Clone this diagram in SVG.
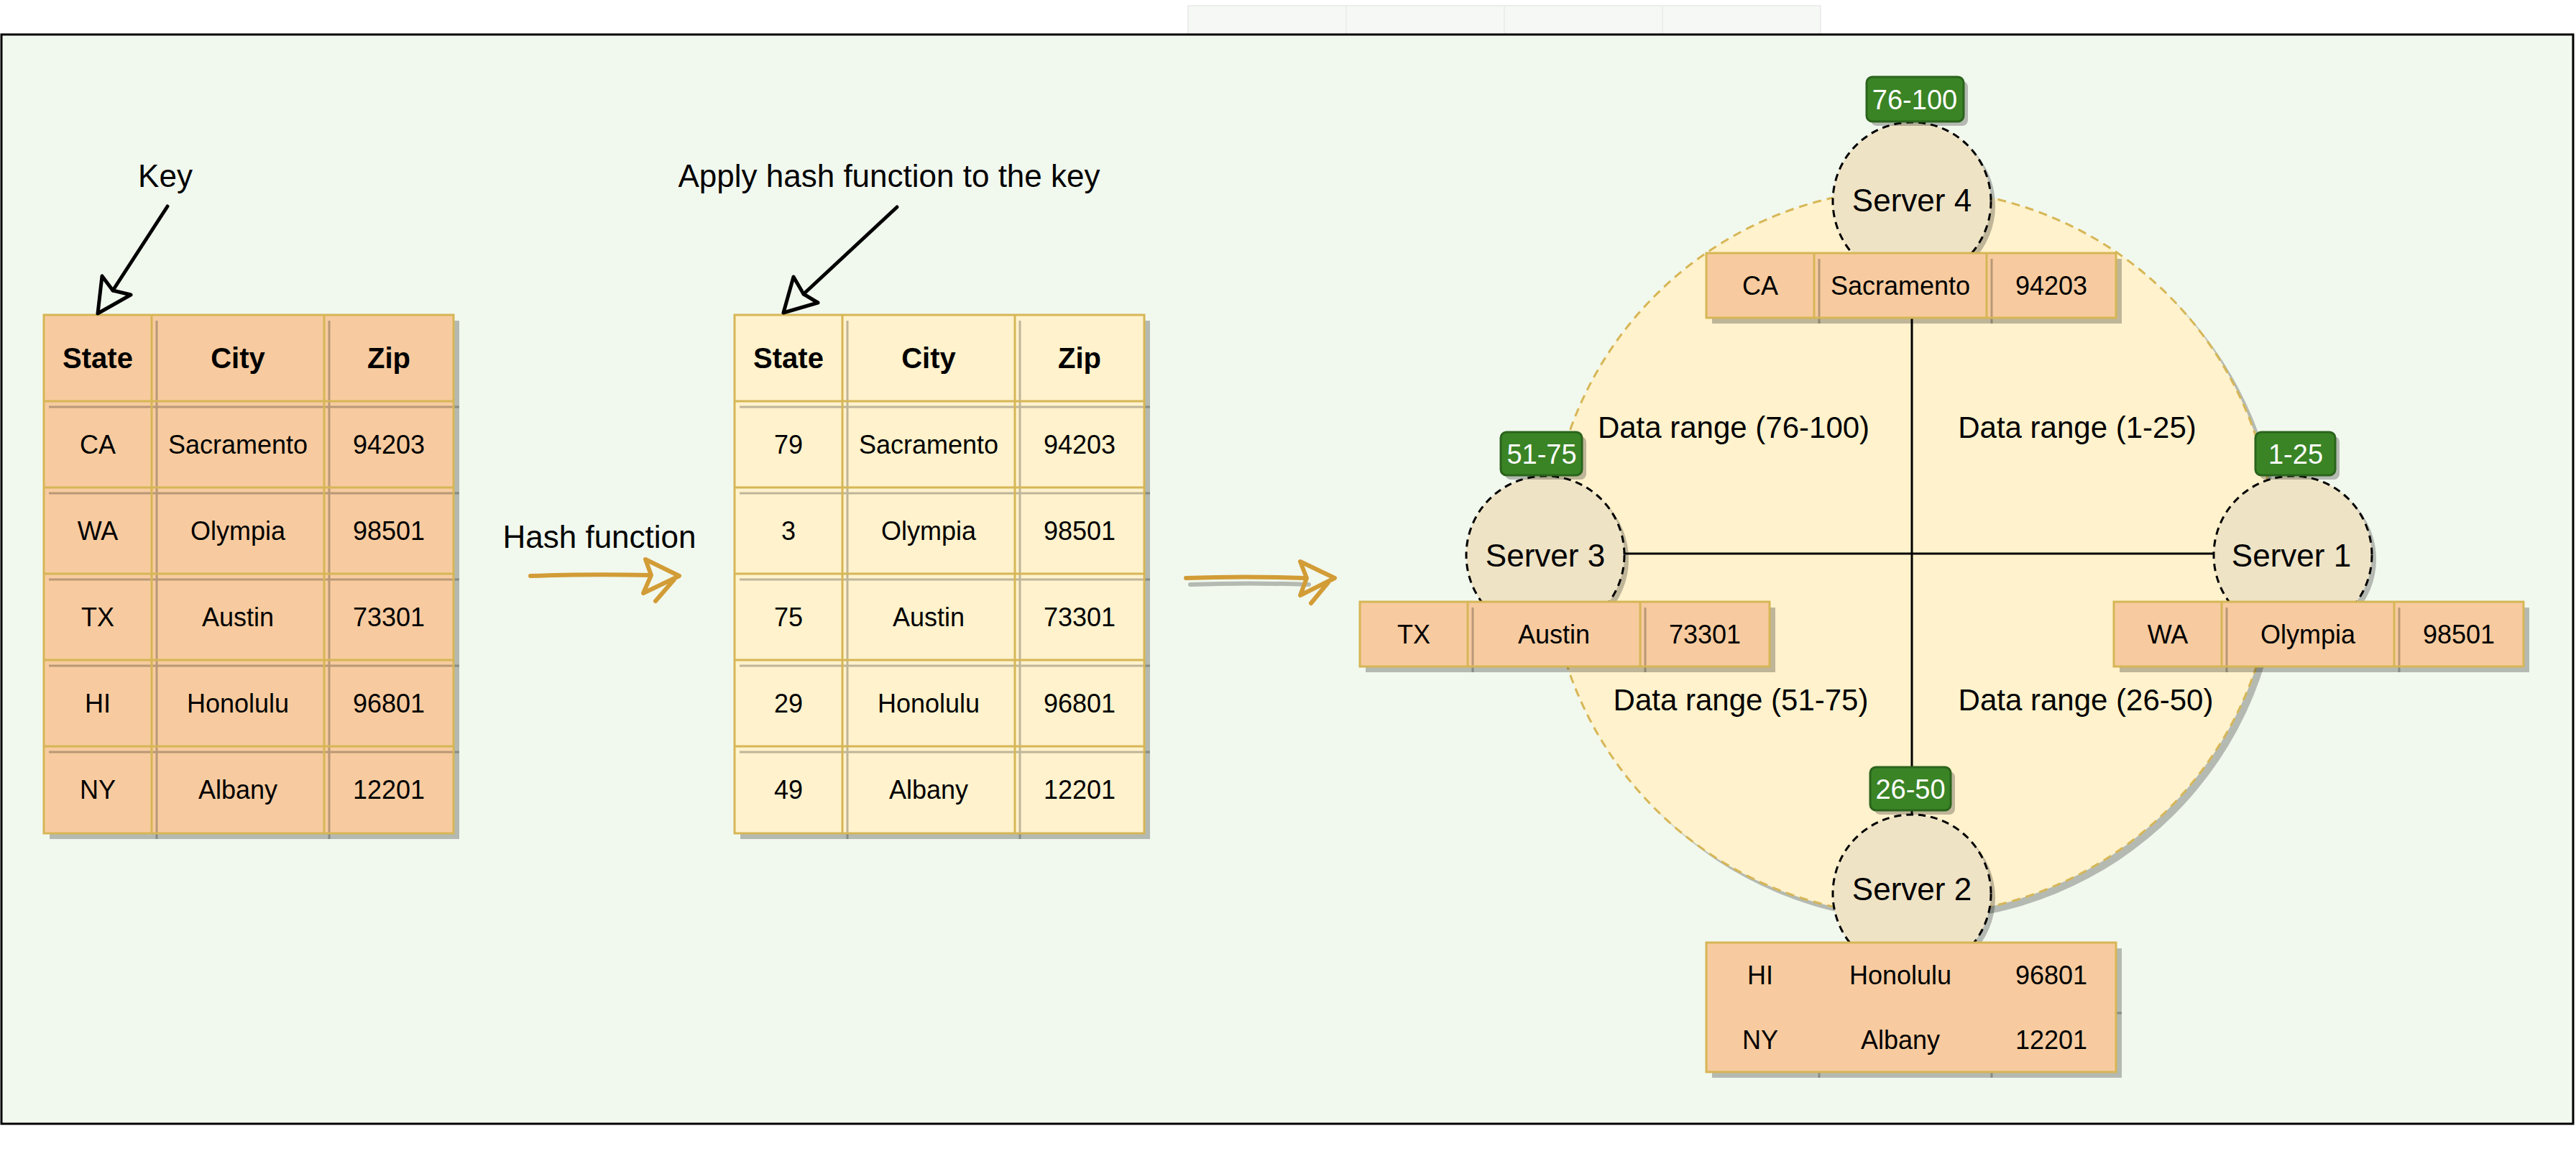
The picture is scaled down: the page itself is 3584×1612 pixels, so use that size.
<svg xmlns="http://www.w3.org/2000/svg" width="3584" height="1612" viewBox="0 0 3584 1612">
<style>
.frame{fill:#F1F8EE;stroke:#000;stroke-width:3}
.strip{fill:#F6F8F6;stroke:#EBEEEB;stroke-width:2}
.sh{fill:#000;fill-opacity:.25}
.shl{stroke:#000;stroke-opacity:.25;stroke-width:3;fill:none}
.peach{fill:#F7CB9F}
.cream{fill:#FFF2CC}
.gold{fill:none;stroke:#D6B656;stroke-width:3}
.t{font-family:"Liberation Sans",Arial,Helvetica,sans-serif;text-anchor:middle;fill:#000}
.f36{font-size:36px}
.f40b{font-size:40px;font-weight:bold}
.f44{font-size:44px}
.f42{font-size:42px}
.lbl{font-size:38px;fill:#fff}
.srv{fill:#EEE3C5;stroke:#000;stroke-width:3;stroke-dasharray:10 7}
.ring{fill:#FFF2CC;stroke:#D6B656;stroke-width:3;stroke-dasharray:12 8}
.grn{fill:#3A8426;stroke:#2B641C;stroke-width:3}
.line{stroke:#000;stroke-width:3;fill:none}
.ka{stroke:#000;stroke-width:5;fill:none;stroke-linecap:round;stroke-linejoin:round}
.ga{stroke:#D29C36;stroke-width:6;fill:none;stroke-linecap:round;stroke-linejoin:round}
.gas{stroke:#000;stroke-opacity:.25;stroke-width:6;fill:none;stroke-linecap:round;stroke-linejoin:round}
</style>
<rect x="0" y="0" width="3584" height="1612" fill="#fff"/>
<g id="top-strip">
<rect class="strip" x="1653" y="8" width="220" height="42"/>
<rect class="strip" x="1873" y="8" width="220" height="42"/>
<rect class="strip" x="2093" y="8" width="220" height="42"/>
<rect class="strip" x="2313" y="8" width="220" height="42"/>
</g>
<rect id="frame" class="frame" x="2" y="48" width="3578" height="1515"/>

<g id="label-key"><text class="t f44" x="230" y="260">Key</text></g>
<g id="label-apply"><text class="t f44" x="1237" y="260">Apply hash function to the key</text></g>
<g id="label-hash"><text class="t f44" x="834" y="762">Hash function</text></g>

<g id="table-original">
<rect class="sh" x="69" y="446" width="570" height="721"/>
<rect class="peach" x="61" y="438" width="570" height="721"/>
<path class="shl" d="M68,566H639M68,686H639M68,806H639M68,926H639M68,1046H639M218,446V1167M458,446V1167"/>
<rect class="gold" x="61" y="438" width="570" height="721"/>
<path class="gold" d="M61,558H631M61,678H631M61,798H631M61,918H631M61,1038H631M211,438V1159M451,438V1159"/>
<text class="t f40b" x="136" y="512">State</text><text class="t f40b" x="331" y="512">City</text><text class="t f40b" x="541" y="512">Zip</text>
<text class="t f36" x="136" y="631">CA</text><text class="t f36" x="331" y="631">Sacramento</text><text class="t f36" x="541" y="631">94203</text>
<text class="t f36" x="136" y="751">WA</text><text class="t f36" x="331" y="751">Olympia</text><text class="t f36" x="541" y="751">98501</text>
<text class="t f36" x="136" y="871">TX</text><text class="t f36" x="331" y="871">Austin</text><text class="t f36" x="541" y="871">73301</text>
<text class="t f36" x="136" y="991">HI</text><text class="t f36" x="331" y="991">Honolulu</text><text class="t f36" x="541" y="991">96801</text>
<text class="t f36" x="136" y="1111">NY</text><text class="t f36" x="331" y="1111">Albany</text><text class="t f36" x="541" y="1111">12201</text>
</g>

<g id="table-hashed">
<rect class="sh" x="1030" y="446" width="570" height="721"/>
<rect class="cream" x="1022" y="438" width="570" height="721"/>
<path class="shl" d="M1029,566H1600M1029,686H1600M1029,806H1600M1029,926H1600M1029,1046H1600M1179,446V1167M1419,446V1167"/>
<rect class="gold" x="1022" y="438" width="570" height="721"/>
<path class="gold" d="M1022,558H1592M1022,678H1592M1022,798H1592M1022,918H1592M1022,1038H1592M1172,438V1159M1412,438V1159"/>
<text class="t f40b" x="1097" y="512">State</text><text class="t f40b" x="1292" y="512">City</text><text class="t f40b" x="1502" y="512">Zip</text>
<text class="t f36" x="1097" y="631">79</text><text class="t f36" x="1292" y="631">Sacramento</text><text class="t f36" x="1502" y="631">94203</text>
<text class="t f36" x="1097" y="751">3</text><text class="t f36" x="1292" y="751">Olympia</text><text class="t f36" x="1502" y="751">98501</text>
<text class="t f36" x="1097" y="871">75</text><text class="t f36" x="1292" y="871">Austin</text><text class="t f36" x="1502" y="871">73301</text>
<text class="t f36" x="1097" y="991">29</text><text class="t f36" x="1292" y="991">Honolulu</text><text class="t f36" x="1502" y="991">96801</text>
<text class="t f36" x="1097" y="1111">49</text><text class="t f36" x="1292" y="1111">Albany</text><text class="t f36" x="1502" y="1111">12201</text>
</g>

<g id="ring">
<circle class="sh" cx="2668" cy="776" r="505"/>
<circle class="ring" cx="2660" cy="768" r="505"/>
</g>

<g id="connectors">
<path class="ka" d="M233,287L157,404"/>
<path class="ka" d="M142,384L136,436L182,410L157,404Z"/>
<path class="ka" d="M1248,288L1118,409"/>
<path class="ka" d="M1104,385L1090,435L1138,421L1118,409Z"/>
<path class="ga" d="M738,801Q820,798 905,800"/>
<path class="ga" d="M898,778L945,801L895,825L906,800Z M938,806L912,836"/>
<g transform="translate(6,9)"><path class="gas" d="M1650,804Q1730,801 1815,804"/></g>
<path class="ga" d="M1650,804Q1730,801 1815,804"/>
<path class="ga" d="M1809,781L1857,804L1809,828L1818,804Z M1848,810L1824,839"/>
<path class="line" d="M2660,442V1133"/>
<path class="line" d="M2260,770H3080"/>
</g>

<g id="range-labels">
<text class="t f42" x="2412" y="609">Data range (76-100)</text>
<text class="t f42" x="2890" y="609">Data range (1-25)</text>
<text class="t f42" x="2422" y="988">Data range (51-75)</text>
<text class="t f42" x="2902" y="988">Data range (26-50)</text>
</g>

<g id="server-4">
<circle class="sh" cx="2666" cy="286" r="110"/>
<circle class="srv" cx="2660" cy="280" r="110"/>
<text class="t f44" x="2660" y="294">Server 4</text>
</g>
<g id="server-3">
<circle class="sh" cx="2156" cy="778" r="110"/>
<circle class="srv" cx="2150" cy="772" r="110"/>
<text class="t f44" x="2150" y="788">Server 3</text>
</g>
<g id="server-1">
<circle class="sh" cx="3196" cy="778" r="110"/>
<circle class="srv" cx="3190" cy="772" r="110"/>
<text class="t f44" x="3188" y="788">Server 1</text>
</g>
<g id="server-2">
<circle class="sh" cx="2666" cy="1249" r="110"/>
<circle class="srv" cx="2660" cy="1243" r="110"/>
<text class="t f44" x="2660" y="1252">Server 2</text>
</g>

<g id="row-ca">
<rect class="sh" x="2382" y="360" width="570" height="90"/>
<rect class="peach" x="2374" y="352" width="570" height="90"/>
<path class="shl" d="M2531,360V450M2771,360V450"/>
<rect class="gold" x="2374" y="352" width="570" height="90"/>
<path class="gold" d="M2524,352V442M2764,352V442"/>
<text class="t f36" x="2449" y="410">CA</text><text class="t f36" x="2644" y="410">Sacramento</text><text class="t f36" x="2854" y="410">94203</text>
</g>
<g id="row-tx">
<rect class="sh" x="1900" y="845" width="570" height="90"/>
<rect class="peach" x="1892" y="837" width="570" height="90"/>
<path class="shl" d="M2049,845V935M2289,845V935"/>
<rect class="gold" x="1892" y="837" width="570" height="90"/>
<path class="gold" d="M2042,837V927M2282,837V927"/>
<text class="t f36" x="1967" y="895">TX</text><text class="t f36" x="2162" y="895">Austin</text><text class="t f36" x="2372" y="895">73301</text>
</g>
<g id="row-wa">
<rect class="sh" x="2949" y="845" width="570" height="90"/>
<rect class="peach" x="2941" y="837" width="570" height="90"/>
<path class="shl" d="M3098,845V935M3338,845V935"/>
<rect class="gold" x="2941" y="837" width="570" height="90"/>
<path class="gold" d="M3091,837V927M3331,837V927"/>
<text class="t f36" x="3016" y="895">WA</text><text class="t f36" x="3211" y="895">Olympia</text><text class="t f36" x="3421" y="895">98501</text>
</g>
<g id="rows-hi-ny">
<rect class="sh" x="2382" y="1319" width="570" height="180"/>
<path class="shl" d="M2531,1491V1499M2771,1491V1499M2944,1409H2952"/>
<rect class="peach" x="2374" y="1311" width="570" height="180"/>
<rect class="gold" x="2374" y="1311" width="570" height="180"/>
<text class="t f36" x="2449" y="1369">HI</text><text class="t f36" x="2644" y="1369">Honolulu</text><text class="t f36" x="2854" y="1369">96801</text>
<text class="t f36" x="2449" y="1459">NY</text><text class="t f36" x="2644" y="1459">Albany</text><text class="t f36" x="2854" y="1459">12201</text>
</g>

<g id="tag-76-100">
<rect class="sh" x="2603" y="113" width="135" height="62" rx="8"/>
<rect class="grn" x="2597" y="107" width="135" height="62" rx="8"/>
<text class="t lbl" x="2664" y="152">76-100</text>
</g>
<g id="tag-51-75">
<rect class="sh" x="2094" y="607" width="113" height="60" rx="8"/>
<rect class="grn" x="2088" y="601" width="113" height="60" rx="8"/>
<text class="t lbl" x="2145" y="645">51-75</text>
</g>
<g id="tag-1-25">
<rect class="sh" x="3144" y="607" width="111" height="60" rx="8"/>
<rect class="grn" x="3138" y="601" width="111" height="60" rx="8"/>
<text class="t lbl" x="3194" y="645">1-25</text>
</g>
<g id="tag-26-50">
<rect class="sh" x="2608" y="1073" width="112" height="60" rx="8"/>
<rect class="grn" x="2602" y="1067" width="112" height="60" rx="8"/>
<text class="t lbl" x="2658" y="1111">26-50</text>
</g>
</svg>
